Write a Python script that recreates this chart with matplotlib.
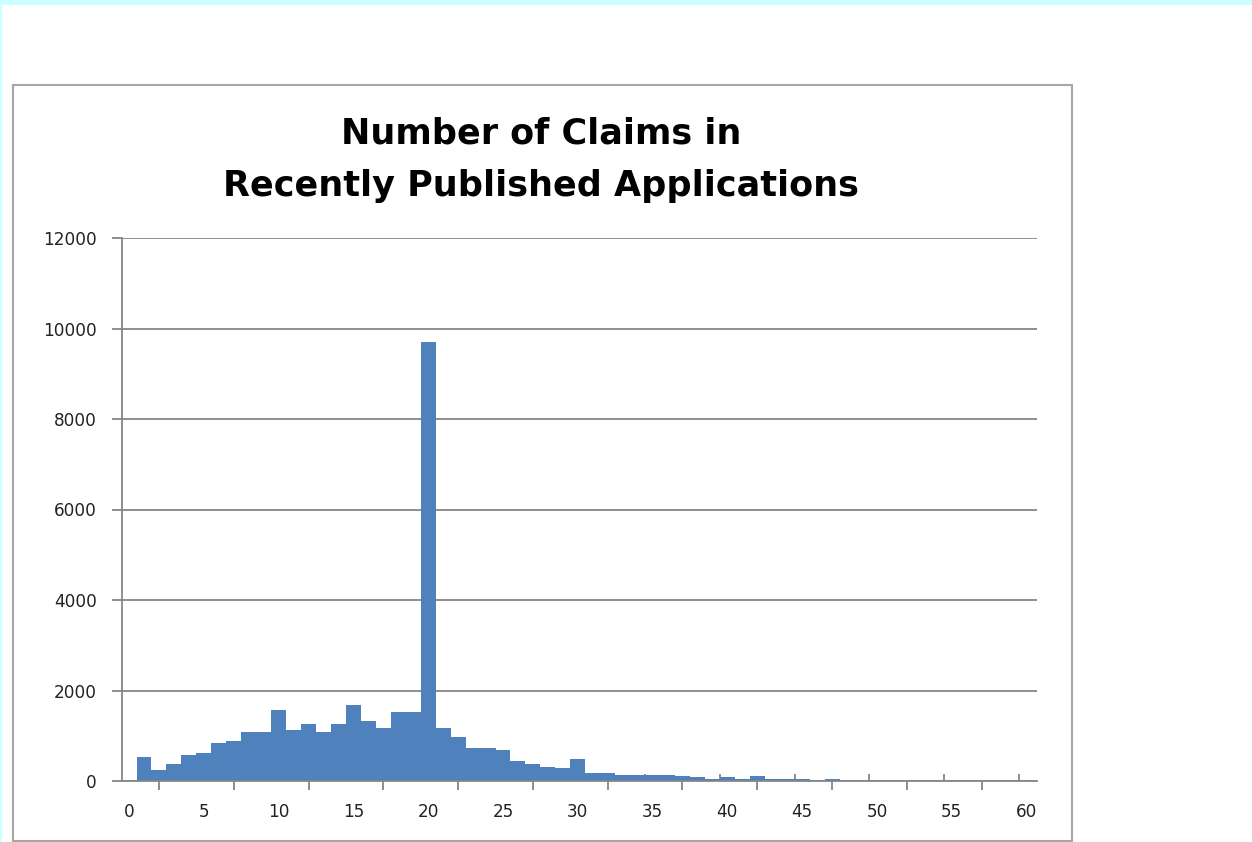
import matplotlib.pyplot as plt
from matplotlib.patches import Rectangle

claims = list(range(1, 48))
counts = [530, 250, 370, 570, 620, 850, 890, 1080, 1080, 1570,
          1120, 1250, 1080, 1250, 1690, 1320, 1170, 1530, 1530, 9700,
          1170, 970, 730, 730, 690, 440, 370, 320, 280, 490,
          170, 170, 130, 130, 130, 125, 100, 90, 55, 90,
          55, 100, 45, 45, 45, 0, 50]
x_labels = list(range(0, 61, 5))
y_ticks = list(range(0, 12001, 2000))

bar_color = '#4F81BD'
grey = '#868686'

fig = plt.figure(figsize=(12.52, 8.42), dpi=100)
fig.patch.set_facecolor('white')

# cyan frame strips and chart box border
fig.patches.append(Rectangle((0, 1 - 5/842), 1, 5/842, transform=fig.transFigure,
                             facecolor='#ccffff', edgecolor='none', zorder=0))
fig.patches.append(Rectangle((0, 0), 2/1252, 1, transform=fig.transFigure,
                             facecolor='#ccffff', edgecolor='none', zorder=0))
fig.patches.append(Rectangle((13/1252, 1/842), (1072-13)/1252, (841-85)/842,
                             transform=fig.transFigure, facecolor='none',
                             edgecolor='#a6a6a6', linewidth=1.5, zorder=0))

ax = fig.add_axes([122/1252, 1 - 781/842, (1036.7-122)/1252, (781-238)/842])
ax.bar(claims, counts, width=1.0, color=bar_color, edgecolor='none', zorder=2)

ax.set_xlim(-0.47, 60.68)
ax.set_ylim(0, 12000)
ax.set_yticks(y_ticks)
ax.set_yticklabels([str(v) for v in y_ticks])
ax.set_xticks(x_labels)
ax.set_xticklabels([str(v) for v in x_labels])
ax.set_xticks([2 + 5*i for i in range(12)], minor=True)

ax.grid(axis='y', color=grey, linewidth=1.3, zorder=1)
for s in ['top', 'right']:
    ax.spines[s].set_visible(False)
ax.spines['left'].set_color(grey)
ax.spines['bottom'].set_color(grey)
ax.spines['left'].set_linewidth(1.3)
ax.spines['bottom'].set_linewidth(1.3)
ax.spines['bottom'].set_zorder(3)

ax.tick_params(axis='y', length=7, width=1.3, color=grey, pad=11,
               labelsize=12.2, labelcolor='#222222')
ax.tick_params(axis='x', which='major', length=0, pad=16,
               labelsize=12.2, labelcolor='#222222')
ax.tick_params(axis='x', which='minor', length=6.5, width=1.3,
               color=grey, direction='out')
for lab in ax.get_xticklabels() + ax.get_yticklabels():
    lab.set_fontfamily('DejaVu Sans')

sec = ax.secondary_xaxis('bottom')
sec.set_xticks([4.5 + 5*i for i in range(12)])
sec.set_xticklabels([])
sec.tick_params(length=5, width=1.3, color=grey, direction='in')
sec.spines['bottom'].set_visible(False)

fig.text(541/1252, 1 - 143/842, 'Number of Claims in', ha='center', va='baseline',
         fontsize=25.2, fontweight='bold', family='DejaVu Sans')
fig.text(541/1252, 1 - 196/842, 'Recently Published Applications', ha='center',
         va='baseline', fontsize=25.2, fontweight='bold', family='DejaVu Sans')

fig.savefig('out.png', dpi=100)
